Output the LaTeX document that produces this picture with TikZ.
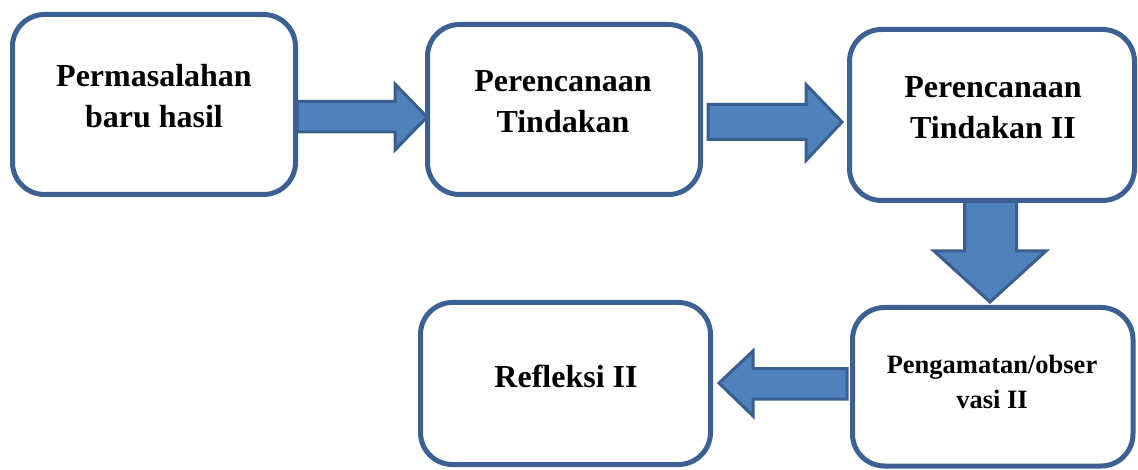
\documentclass[tikz,border=0pt]{standalone}
\usepackage{fontspec}
\setmainfont{Liberation Serif}
\definecolor{boxline}{HTML}{3B6091}
\definecolor{arrfill}{HTML}{4F81BD}
\definecolor{arrline}{HTML}{3A5F8C}
\tikzset{
  stepbox/.style={draw=boxline, line width=5pt, rounded corners=32pt, fill=white},
  blockarrow/.style={draw=arrline, fill=arrfill, line width=3pt, line join=miter},
  bigtext/.style={font=\bfseries\fontsize{32}{41.5}\selectfont, align=center, inner sep=0pt},
  smalltext/.style={font=\bfseries\fontsize{26.5}{35}\selectfont, align=center, inner sep=0pt}
}
\begin{document}
\begin{tikzpicture}[x=1pt,y=-1pt]
\useasboundingbox (0,0) rectangle (1138,470);
% block arrows
\draw[blockarrow] (297,101.5) -- (395,101.5) -- (395,84) -- (427,117) -- (395,150) -- (395,132) -- (297,132) -- cycle;
\draw[blockarrow] (708,104.5) -- (806,104.5) -- (806,84.5) -- (842,122) -- (806,160.5) -- (806,139.5) -- (708,139.5) -- cycle;
\draw[blockarrow] (964.5,200) -- (964.5,251) -- (934,251) -- (990,302) -- (1046,251) -- (1016.5,251) -- (1016.5,200) -- cycle;
\draw[blockarrow] (847,368.5) -- (753,368.5) -- (753,351) -- (719,383) -- (753,416) -- (753,399) -- (847,399) -- cycle;
% boxes
\draw[stepbox] (12.5,14.5) rectangle (295.5,194.5);
\draw[stepbox] (427.5,24.5) rectangle (700.5,194.5);
\draw[stepbox] (849.5,29.5) rectangle (1134.5,200.5);
\draw[stepbox] (420.5,302.5) rectangle (710.5,464.5);
\draw[stepbox] (852.5,307.5) rectangle (1133,466);
% texts
\node[bigtext] (t1) at (154,96) {Permasalahan\\baru hasil};
\node[bigtext] (t2) at (563,101.5) {Perencanaan\\Tindakan};
\node[bigtext] (t3) at (993,107.5) {Perencanaan\\Tindakan II};
\node[bigtext] (t4) at (566,376) {Refleksi II};
\node[smalltext] (t5) at (992,382) {Pengamatan/obser\\vasi II};
\end{tikzpicture}
\end{document}
